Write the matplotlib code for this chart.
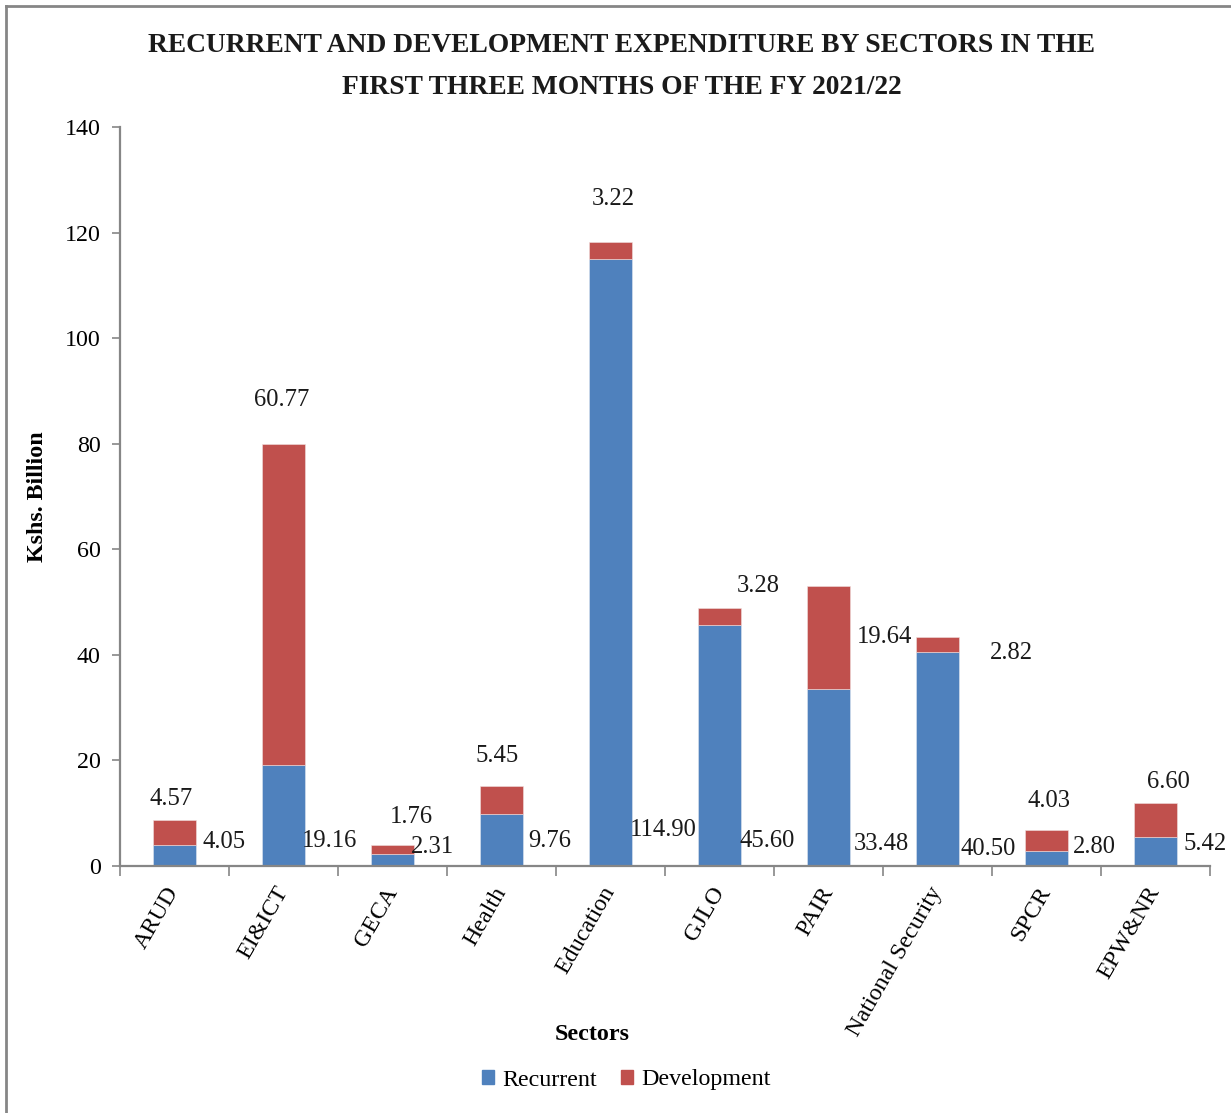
import matplotlib
matplotlib.use("Agg")
import matplotlib.pyplot as plt
from matplotlib.patches import Patch
import numpy as np

plt.rcParams['font.family'] = ['Liberation Serif', 'DejaVu Serif']

sectors = ["ARUD", "EI&ICT", "GECA", "Health", "Education", "GJLO", "PAIR",
           "National Security", "SPCR", "EPW&NR"]
recurrent = [4.05, 19.16, 2.31, 9.76, 114.90, 45.60, 33.48, 40.50, 2.80, 5.42]
development = [4.57, 60.77, 1.76, 5.45, 3.22, 3.28, 19.64, 2.82, 4.03, 6.60]

# label placement offsets in pixels (dx, dy)
rec_offsets = [(50, 24), (46, 25), (40, 19), (48, 25), (53, 36),
               (48, 25), (53, 22), (51, 17), (48, 19), (50, 22)]
dev_offsets = [(-3, 21), (-2, 44), (19, 28), (-4, 30), (3, 43),
               (39, 22), (56, -51), (74, -16), (2, 29), (13, 21)]

BLUE = "#4F81BD"
RED = "#C0504D"
GREY = "#868686"
FS = 17.3

fig = plt.figure(figsize=(12.31, 11.13), dpi=100)
ax = fig.add_axes([120 / 1231, 1 - 866 / 1113, 1090 / 1231, (866 - 127) / 1113])

x = np.arange(len(sectors))
w = 0.4
ax.bar(x, recurrent, w, color=BLUE, edgecolor="#dfe6f0", linewidth=0.4, zorder=2)
ax.bar(x, development, w, bottom=recurrent, color=RED, edgecolor="#f0dfdf",
       linewidth=0.4, zorder=2)

ax.set_xlim(-0.5, len(sectors) - 0.5)
ax.set_ylim(0, 140)
ax.set_yticks(np.arange(0, 141, 20))
ax.tick_params(axis="y", direction="out", length=6, width=1.2, color=GREY,
               labelsize=FS, pad=8)
ax.set_xticks(np.arange(-0.5, len(sectors), 1.0))
ax.set_xticklabels([])
ax.tick_params(axis="x", direction="out", length=7, width=1.2, color=GREY)
ax.set_xticks(x, minor=True)
ax.set_xticklabels(sectors, minor=True, rotation=60, ha="right", va="center",
                   rotation_mode="anchor", fontsize=FS)
ax.tick_params(axis="x", which="minor", length=0, pad=16)
for lbl in ax.get_xticklabels(minor=True):
    lbl.set_x(lbl.get_position()[0])

for side in ("top", "right"):
    ax.spines[side].set_visible(False)
for side in ("left", "bottom"):
    ax.spines[side].set_color(GREY)
    ax.spines[side].set_linewidth(1.6)

for i in range(len(sectors)):
    dx, dy = rec_offsets[i]
    ax.annotate(f"{recurrent[i]:.2f}", xy=(x[i], 0), xytext=(dx, dy),
                textcoords="offset pixels", ha="center", va="center",
                fontsize=FS + 0.4, color="#1a1a1a", zorder=3)
    dx, dy = dev_offsets[i]
    ax.annotate(f"{development[i]:.2f}", xy=(x[i], recurrent[i] + development[i]),
                xytext=(dx, dy), textcoords="offset pixels", ha="center",
                va="center", fontsize=FS + 0.4, color="#1a1a1a", zorder=3)

ax.set_ylabel("Kshs. Billion", fontsize=FS, fontweight="bold", labelpad=12)
fig.text(592 / 1231, 1 - 1035 / 1113, "Sectors", ha="center", va="center",
         fontsize=FS, fontweight="bold")

fig.text(622 / 1231, 1 - 46 / 1113,
         "RECURRENT AND DEVELOPMENT EXPENDITURE BY SECTORS IN THE",
         ha="center", va="center", fontsize=19.8, fontweight="bold", color="#1a1a1a")
fig.text(622 / 1231, 1 - 87 / 1113, "FIRST THREE MONTHS OF THE FY 2021/22",
         ha="center", va="center", fontsize=19.8, fontweight="bold", color="#1a1a1a")

handles = [Patch(color=BLUE, label="Recurrent"), Patch(color=RED, label="Development")]
fig.legend(handles=handles, loc="center", bbox_to_anchor=(626 / 1231, 1 - 1080 / 1113),
           ncol=2, frameon=False, fontsize=FS, handlelength=0.5, handleheight=0.5,
           handletextpad=0.35, columnspacing=1.0)

# outer frame
fig.add_artist(plt.Line2D([6 / 1231, 6 / 1231], [0, 1 - 6 / 1113],
                          transform=fig.transFigure, color=GREY, lw=2))
fig.add_artist(plt.Line2D([6 / 1231, 1], [1 - 6 / 1113, 1 - 6 / 1113],
                          transform=fig.transFigure, color=GREY, lw=2))

fig.savefig("out.png", dpi=100)
